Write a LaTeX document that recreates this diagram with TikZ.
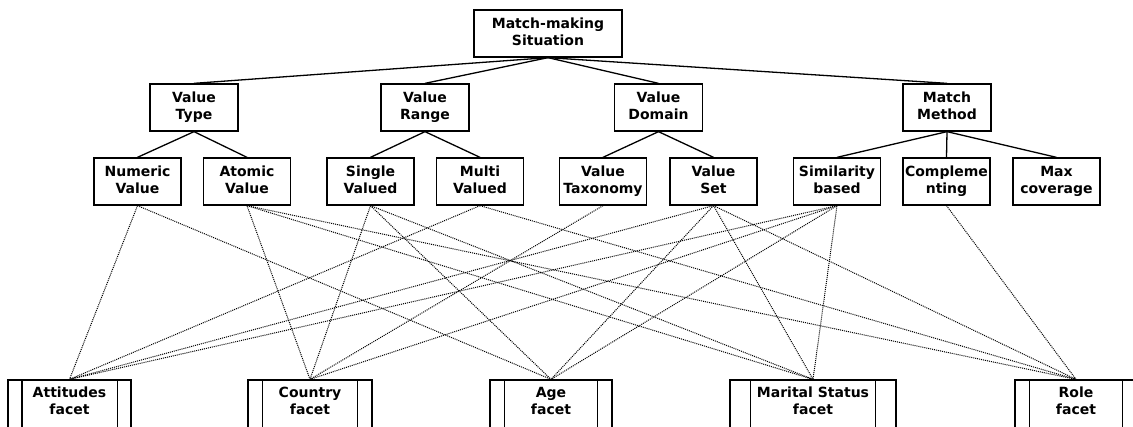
\documentclass[tikz,border=0pt]{standalone}
\usepackage{fontspec}
\setmainfont{DejaVu Sans}
\begin{document}
\begin{tikzpicture}[x=1pt,y=-1pt,
  nbox/.style={draw=black, line width=1.3pt, fill=white, minimum height=47pt, inner sep=0pt,
    align=center, font=\fontsize{14}{17}\selectfont\bfseries,
    execute at end node=\vphantom{y}},
  lvtwo/.style={nbox, minimum width=88pt},
  lvthree/.style={nbox, minimum width=87pt},
  tedge/.style={draw=black, line width=1.3pt},
  link/.style={draw=black, line width=1pt, dash pattern=on 1pt off 1pt},
  facetbox/.style={draw=black, line width=1.3pt, minimum height=70pt, inner sep=0pt},
  ftext/.style={inner sep=0pt, align=center, font=\fontsize{14}{17}\selectfont\bfseries}
]
\useasboundingbox (0,0) rectangle (1133,427);
\clip (0,0) rectangle (1133,427);

% level 1
\node[nbox, minimum width=148pt] (root) at (548,33.5) {Match-making\\Situation};
% level 2
\node[lvtwo] (vt) at (194,107.5) {Value\\Type};
\node[lvtwo] (vr) at (425,107.5) {Value\\Range};
\node[lvtwo] (vd) at (658.5,107.5) {Value\\Domain};
\node[lvtwo] (mm) at (947,107.5) {Match\\Method};
% level 3
\node[lvthree] (num) at (137.5,181.5) {Numeric\\Value};
\node[lvthree] (atom) at (247,181.5) {Atomic\\Value};
\node[lvthree] (single) at (370.5,181.5) {Single\\Valued};
\node[lvthree] (multi) at (480,181.5) {Multi\\Valued};
\node[lvthree] (tax) at (603,181.5) {Value\\Taxonomy};
\node[lvthree] (vset) at (713.5,181.5) {Value\\Set};
\node[lvthree] (sim) at (837,181.5) {Similarity\\based};
\node[lvthree] (comp) at (946.5,181.5) {Compleme\\nting};
\node[lvthree] (maxc) at (1056.5,181.5) {Max\\coverage};

% facets
\node[facetbox, minimum width=123pt] (att) at (69.5,415) {};
\node[facetbox, minimum width=124pt] (cty) at (310,415) {};
\node[facetbox, minimum width=122pt] (age) at (551,415) {};
\node[facetbox, minimum width=166pt] (mar) at (813,415) {};
\node[facetbox, minimum width=122pt] (role) at (1076,415) {};
\foreach \f/\d in {att/14.5, cty/15, age/15, mar/21, role/15}{
  \draw[line width=1.3pt] ([xshift=\d pt]\f.north west) -- ([xshift=\d pt]\f.south west);
  \draw[line width=1.3pt] ([xshift=-\d pt]\f.north east) -- ([xshift=-\d pt]\f.south east);
}
\node[ftext] (attl) at (69.5,401) {Attitudes\\facet};
\node[ftext] (ctyl) at (310,401) {Country\\facet};
\node[ftext] (agel) at (551,401) {Age\\facet};
\node[ftext] (marl) at (813,401) {Marital Status\\facet};
\node[ftext] (rolel) at (1076,401) {Role\\facet};

% tree edges
\foreach \c in {vt,vr,vd,mm} \draw[tedge] (root.south) -- (\c.north);
\draw[tedge] (vt.south) -- (num.north);
\draw[tedge] (vt.south) -- (atom.north);
\draw[tedge] (vr.south) -- (single.north);
\draw[tedge] (vr.south) -- (multi.north);
\draw[tedge] (vd.south) -- (tax.north);
\draw[tedge] (vd.south) -- (vset.north);
\draw[tedge] (mm.south) -- (sim.north);
\draw[tedge] (mm.south) -- (comp.north);
\draw[tedge] (mm.south) -- (maxc.north);

% dotted links
\foreach \a/\b in {num/att, num/age,
  atom/cty, atom/mar, atom/role,
  single/cty, single/age, single/mar,
  multi/att, multi/role,
  tax/cty,
  vset/att, vset/age, vset/mar, vset/role,
  sim/att, sim/cty, sim/age, sim/mar,
  comp/role}
  \draw[link] (\a.south) -- (\b.north);
\end{tikzpicture}
\end{document}
